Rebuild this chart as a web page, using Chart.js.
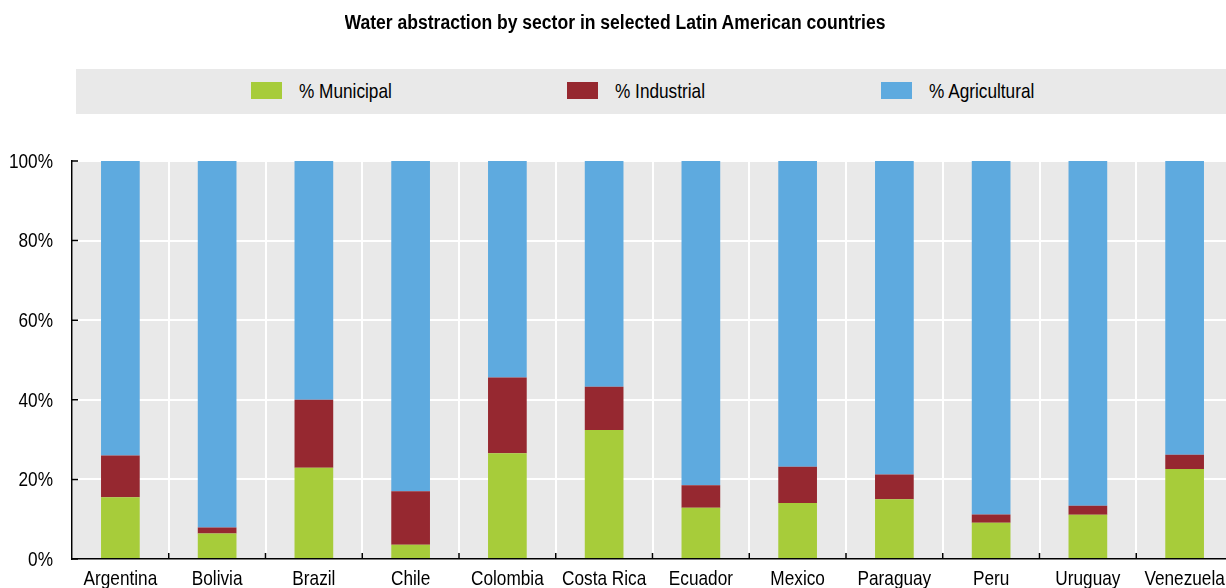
<!DOCTYPE html>
<html>
<head>
<meta charset="utf-8">
<script src="https://cdn.jsdelivr.net/npm/chart.js@4.4.1/dist/chart.umd.min.js"></script>
<style>
  html, body { margin: 0; padding: 0; background: #fff; overflow: hidden; width: 1226px; height: 588px; }
  #title { position: absolute; top: 9px; left: 615px; font-weight: bold; color: #000; white-space: nowrap;
           font-family: "Liberation Sans", Arial, sans-serif; font-size: 19.5px; line-height: 26px;
           transform: translateX(-50%) scaleX(0.9); }
  #legend { position: absolute; left: 76px; top: 69px; width: 1164px; height: 45px; background: #e9e9e9; }
  .item { position: absolute; top: 0; height: 45px; }
  .box { position: absolute; top: 13px; width: 31px; height: 17px; }
  .lbl { position: absolute; top: 0; line-height: 44px; white-space: nowrap; color: #000;
         font-family: "Liberation Sans", Arial, sans-serif; font-size: 21px;
         transform: scaleX(0.82); transform-origin: left center; }
  #wrap { position: absolute; left: 0; top: 0; }
</style>
</head>
<body>
<div id="wrap"><canvas id="chart" width="1240" height="600"></canvas></div>
<div id="title">Water abstraction by sector in selected Latin American countries</div>
<div id="legend"></div>
<script>
var countries = ['Argentina', 'Bolivia', 'Brazil', 'Chile', 'Colombia', 'Costa Rica', 'Ecuador', 'Mexico', 'Paraguay', 'Peru', 'Uruguay', 'Venezuela'];
var municipal = [15.5, 6.4, 22.9, 3.6, 26.6, 32.4, 12.9, 14.1, 15.0, 9.1, 11.1, 22.6];
var industrial = [10.5, 1.5, 17.1, 13.4, 19.0, 10.9, 5.6, 9.1, 6.2, 2.1, 2.3, 3.6];
var agricultural = [74.0, 92.1, 60.0, 83.0, 54.4, 56.7, 81.5, 76.8, 78.8, 88.8, 86.6, 73.8];
var seriesNames = ['% Municipal', '% Industrial', '% Agricultural'];
var seriesColors = ['#a7cc3a', '#962830', '#5eaadf'];
var yTicks = [0, 20, 40, 60, 80, 100];

var labelFont = '21px "Liberation Sans", Arial, sans-serif';
var squeeze = 0.82; // narrow look, like Arial Narrow

// legend (html)
var legendEl = document.getElementById('legend');
var boxLeft = [175, 491, 805];
for (var i = 0; i < seriesNames.length; i++) {
    var item = document.createElement('div');
    item.className = 'item';
    item.style.left = boxLeft[i] + 'px';
    var box = document.createElement('div');
    box.className = 'box';
    box.style.background = seriesColors[i];
    var lbl = document.createElement('div');
    lbl.className = 'lbl';
    lbl.style.left = '48px';
    lbl.textContent = seriesNames[i];
    item.appendChild(box);
    item.appendChild(lbl);
    legendEl.appendChild(item);
}

function squeezedText(ctx, text, x, y, align) {
    ctx.save();
    ctx.translate(x, y);
    ctx.scale(squeeze, 1);
    ctx.textAlign = align;
    ctx.fillText(text, 0, 0);
    ctx.restore();
}

// grey plot background, inward ticks and narrow tick labels
var plotDecor = {
    id: 'plotDecor',
    beforeDraw: function (chart) {
        var a = chart.chartArea;
        var ctx = chart.ctx;
        ctx.save();
        ctx.fillStyle = '#e9e9e9';
        ctx.fillRect(a.left, a.top, a.right - a.left, a.bottom - a.top);
        ctx.restore();
    },
    afterDraw: function (chart) {
        var a = chart.chartArea;
        var ctx = chart.ctx;
        var x = chart.scales.x, y = chart.scales.y;
        ctx.save();
        ctx.strokeStyle = '#000';
        ctx.lineWidth = 1.5;
        ctx.beginPath();
        yTicks.forEach(function (v) {
            var py = y.getPixelForValue(v);
            ctx.moveTo(a.left, py);
            ctx.lineTo(a.left + 6, py);
        });
        for (var i = 0; i < countries.length - 1; i++) {
            var px = (x.getPixelForValue(i) + x.getPixelForValue(i + 1)) / 2;
            ctx.moveTo(px, a.bottom);
            ctx.lineTo(px, a.bottom - 6);
        }
        ctx.stroke();

        ctx.fillStyle = '#000';
        ctx.font = labelFont;
        ctx.textBaseline = 'middle';
        yTicks.forEach(function (v) {
            squeezedText(ctx, v + '%', a.left - 19, y.getPixelForValue(v) + 1, 'right');
        });
        ctx.textBaseline = 'alphabetic';
        countries.forEach(function (c, i) {
            squeezedText(ctx, c, x.getPixelForValue(i), a.bottom + 26, 'center');
        });
        ctx.restore();
    }
};

var datasets = [municipal, industrial, agricultural].map(function (vals, i) {
    return {
        label: seriesNames[i],
        data: vals,
        backgroundColor: seriesColors[i],
        borderWidth: 0,
        barPercentage: 0.4,
        categoryPercentage: 1.0
    };
});

var ctx = document.getElementById('chart').getContext('2d');
var myChart = new Chart(ctx, {
    type: 'bar',
    data: { labels: countries, datasets: datasets },
    plugins: [plotDecor],
    options: {
        responsive: false,
        animation: false,
        layout: { padding: { top: 161, right: 7, left: 0, bottom: 0 } },
        plugins: {
            legend: { display: false },
            title: { display: false },
            tooltip: { enabled: false }
        },
        scales: {
            x: {
                stacked: true,
                offset: true,
                grid: { offset: true, color: '#ffffff', lineWidth: 2, drawTicks: false },
                border: { display: true, color: '#000', width: 1.5 },
                ticks: { display: false },
                afterFit: function (s) { s.height = 41; }
            },
            y: {
                stacked: true,
                min: 0,
                max: 100,
                afterBuildTicks: function (s) {
                    s.ticks = yTicks.map(function (v) { return { value: v }; });
                },
                grid: { color: '#ffffff', lineWidth: 2, drawTicks: false },
                border: { display: true, color: '#000', width: 1.5 },
                ticks: { display: false },
                afterFit: function (s) { s.width = 72; }
            }
        }
    }
});
</script>
</body>
</html>
